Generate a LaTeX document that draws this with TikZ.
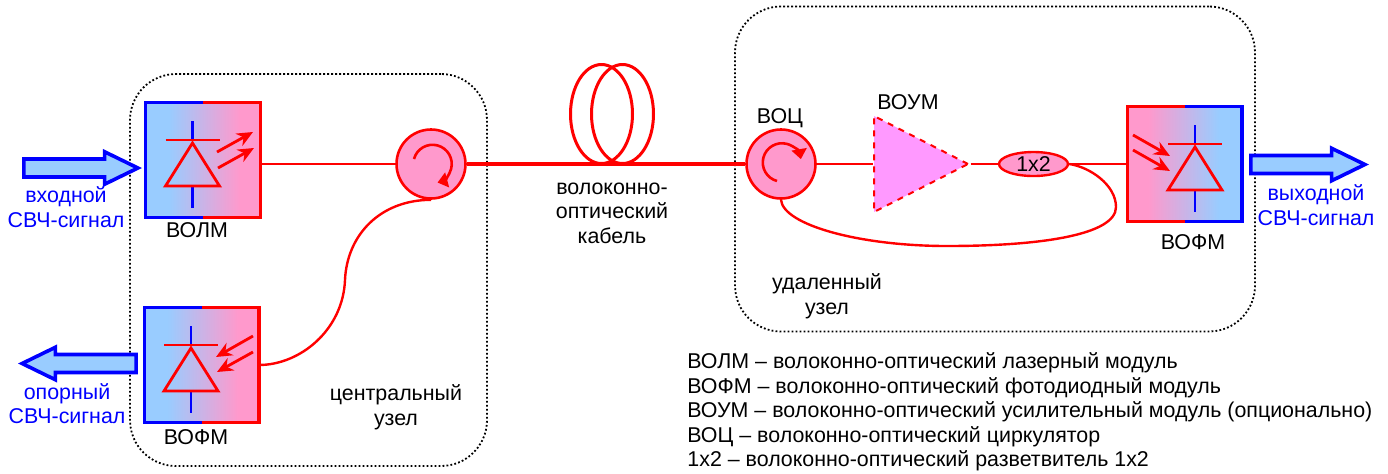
\documentclass[tikz,border=0pt]{standalone}
\usepackage{fontspec}
\setmainfont{Liberation Sans}
\usetikzlibrary{shapes.geometric,shapes.arrows,arrows.meta,calc}

\definecolor{sigblue}{HTML}{99CCFF}
\definecolor{modpink}{HTML}{FF99CC}
\definecolor{ampfill}{HTML}{FF99FF}
\pgfdeclarehorizontalshading{bluepink}{100bp}{rgb(0bp)=(.6,.8,1); rgb(35bp)=(.6,.8,1); rgb(66bp)=(1,.6,.8); rgb(100bp)=(1,.6,.8)}

\tikzset{
    nodebox/.style={draw, rectangle, rounded corners=23pt, line width=.9pt, dash pattern=on .9pt off 1.1pt, inner sep=0pt},
    modbox/.style={rectangle, shading=bluepink, minimum size=57pt, inner sep=0pt},
    fibre/.style={red, line width=1.2pt},
    trunk/.style={red, line width=2.1pt},
    blueedge/.style={blue, line width=1.6pt},
    rededge/.style={red, line width=1.6pt},
    ray/.style={red, line width=1.4pt, -{Stealth[length=8pt,width=7pt]}},
    turn/.style={red, line width=1.3pt, -{Triangle[length=5pt,width=7.5pt]}},
    circul/.style={draw=red, fill=modpink, circle, line width=1.3pt, minimum size=34.5pt, inner sep=0pt},
    sigarrow/.style={draw=blue, fill=sigblue, single arrow, line width=1.8pt, inner sep=3.6pt, minimum height=57pt, single arrow head extend=3.6pt, single arrow tip angle=52, anchor=tip},
    bluetext/.style={text=blue, align=center, font=\fontsize{10.7pt}{12.2pt}\selectfont},
    blacktext/.style={text=black, align=center, font=\fontsize{10.7pt}{12.3pt}\selectfont},
    diode/.pic={
        \draw[blue, line width=1.3pt] (0,-39) -- (0,-20) (0,26) -- (0,48);
        \draw[red, line width=1.4pt] (-27,-20) -- (27,-20);
        \draw[red, line width=1.4pt] (0,-17) -- (27,26) -- (-27,26) -- cycle;
    }
}

\begin{document}
\begin{tikzpicture}[x=0.5pt, y=-0.5pt]
    \useasboundingbox (0,0) rectangle (1388,473);

    % dotted outlines of the two sites
    \node[nodebox, minimum width=178.5pt, minimum height=196pt] (central) at (308.5,270) {};
    \node[nodebox, minimum width=260pt, minimum height=162.5pt] (remote) at (995,169) {};

    % modules
    \node[modbox] (volm) at (203,160) {};
    \node[modbox] (vofml) at (201.5,365) {};
    \node[modbox, shading angle=180] (vofmr) at (1184.5,164) {};
    \pic at (192.5,160) {diode};
    \pic at (191,365) {diode};
    \pic at (1195,164) {diode};
    \draw[blueedge] (volm.north) -- (volm.north west) -- (volm.south west) -- (volm.south);
    \draw[rededge] (volm.south) -- (volm.south east) -- (volm.north east) -- (volm.north);
    \draw[blueedge] (vofml.north) -- (vofml.north west) -- (vofml.south west) -- (vofml.south);
    \draw[rededge] (vofml.south) -- (vofml.south east) -- (vofml.north east) -- (vofml.north);
    \draw[rededge] (vofmr.north) -- (vofmr.north west) -- (vofmr.south west) -- (vofmr.south);
    \draw[blueedge] (vofmr.south) -- (vofmr.south east) -- (vofmr.north east) -- (vofmr.north);

    % light rays
    \foreach \xa/\ya/\xb/\yb in {217/152/253/132, 218/168/254/148, 253/336/216/357, 253/352/217/372, 1133/135/1170/156, 1133/150/1170/171}
        \draw[ray] (\xa,\ya) -- (\xb,\yb);

    % fibre spool
    \node[draw=red, ellipse, line width=1.5pt, minimum width=31pt, minimum height=49.5pt, inner sep=0pt] (coila) at (601.5,114) {};
    \node[draw=red, ellipse, line width=1.5pt, minimum width=31pt, minimum height=49.5pt, inner sep=0pt] (coilb) at (622.5,114) {};

    % circulators, amplifier, splitter
    \node[circul] (circa) at (431,164) {};
    \node[circul] (circb) at (781,164) {};
    \node[isosceles triangle, isosceles triangle stretches, draw=red, dashed, fill=ampfill, line width=1pt, minimum width=48pt, minimum height=47pt, inner sep=0pt, anchor=lower side] (voum) at (873,164) {};
    \node[draw=red, fill=modpink, ellipse, line width=1.2pt, minimum width=34.5pt, minimum height=12pt, inner sep=0pt, font=\fontsize{10.7pt}{12pt}\selectfont] (split) at (1033.5,164) {1x2};
    \draw[turn] (414,159) arc[start angle=165, end angle=-75, radius=9.6pt];
    \draw[turn] (777,181) arc[start angle=255, end angle=10, radius=9.6pt];

    % connections
    \draw[fibre] (volm.east |- circa.west) -- (circa.west);
    \draw[trunk] (circa.east) -- (circb.west);
    \draw[fibre] (circb.east) -- (voum.lower side);
    \draw[fibre] (voum.apex) -- (split.west);
    \draw[fibre] (split.east) -- (vofmr.west);
    \draw[fibre] (circa.south) .. controls (380,200) and (347,235) .. (345,280) .. controls (343,330) and (300,365) .. (vofml.east);
    \draw[fibre] (circb.south) .. controls (783,225) and (860,246) .. (947,246) .. controls (1040,246) and (1116,235) .. (1116,207) .. controls (1116,185) and (1090,167) .. (split.east);

    % RF signal arrows
    \node[sigarrow] (sigin) at (142,168) {};
    \node[sigarrow, shape border rotate=180] (sigref) at (18,363.5) {};
    \node[sigarrow] (sigout) at (1369,164.5) {};

    % labels
    \node[bluetext] (lblin) at (66,207) {входной\\СВЧ-сигнал};
    \node[bluetext] (lblref) at (67,403.5) {опорный\\СВЧ-сигнал};
    \node[bluetext] (lblout) at (1316,205) {выходной\\СВЧ-сигнал};
    \node[blacktext] (lblvolm) at (197,230) {ВОЛМ};
    \node[blacktext] (lblvofml) at (196,437) {ВОФМ};
    \node[blacktext] (lblvofmr) at (1193,242) {ВОФМ};
    \node[blacktext] (lblvoc) at (780,118) {ВОЦ};
    \node[blacktext] (lblvoum) at (908,102) {ВОУМ};
    \node[blacktext] (lblcentral) at (396,407) {центральный\\узел};
    \node[blacktext] (lblremote) at (827,296.5) {удаленный\\узел};
    \node[blacktext] (lblcable) at (612,213) {волоконно-\\оптический\\кабель};
    \node[blacktext, align=left, anchor=west, inner sep=0pt] (legend) at (687,412) {ВОЛМ – волоконно-оптический лазерный модуль\\
        ВОФМ – волоконно-оптический фотодиодный модуль\\
        ВОУМ – волоконно-оптический усилительный модуль (опционально)\\
        ВОЦ – волоконно-оптический циркулятор\\
        1x2 – волоконно-оптический разветвитель 1x2};
\end{tikzpicture}
\end{document}
